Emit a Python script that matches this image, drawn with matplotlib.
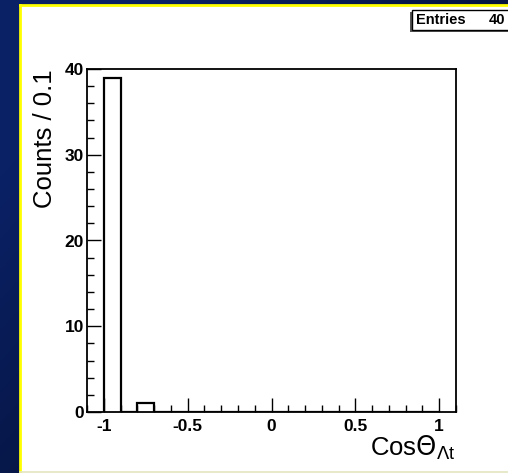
import numpy as np
import matplotlib.pyplot as plt
from matplotlib.patches import Rectangle
from matplotlib.ticker import MultipleLocator

# histogram content (bin width 0.1)
bin_edges = np.round(np.arange(-1.0, 1.0001, 0.1), 2)
counts = np.zeros(20)
counts[0] = 39
counts[2] = 1
bin_centers = (bin_edges[:-1] + bin_edges[1:]) / 2
n_entries = 40

plt.rcParams['font.family'] = ['Liberation Sans', 'DejaVu Sans']

fig = plt.figure(figsize=(5.08, 4.73), dpi=100)

# blue gradient backdrop
bg = fig.add_axes([0, 0, 1, 1], zorder=-10)
xx, yy = np.meshgrid(np.linspace(0, 1, 200), np.linspace(0, 1, 200))
t = np.clip(0.65 * (1 - xx) + 0.55 * yy, 0, 1)
c0 = np.array([0.0, 0.02, 0.08])
c1 = np.array([0.04, 0.13, 0.40])
img = c0 + (c1 - c0) * t[..., None]
bg.imshow(img, extent=[0, 1, 0, 1], origin='lower', aspect='auto')
bg.set_axis_off()

# white pad with yellow edge
fig.patches.append(Rectangle((20 / 508, 0), 1, (473 - 6) / 473, transform=fig.transFigure,
                             facecolor='white', edgecolor='none', zorder=-5))
fig.add_artist(plt.Line2D([19.5 / 508, 19.5 / 508], [0, (473 - 5.5) / 473], color='#ffff00', lw=2.0, transform=fig.transFigure))
fig.add_artist(plt.Line2D([19.5 / 508, 1], [(473 - 5.5) / 473] * 2, color='#ffff00', lw=2.0, transform=fig.transFigure))
fig.add_artist(plt.Line2D([20 / 508, 1], [1.5 / 473] * 2, color='#e4e4c0', lw=1.2, transform=fig.transFigure))

ax = fig.add_axes([87 / 508, (473 - 412) / 473, (456 - 87) / 508, (412 - 69) / 473])
ax.set_facecolor('none')
ax.hist(bin_centers, bins=bin_edges, weights=counts, histtype='step', color='black', lw=1.6)
ax.set_xlim(-1.1, 1.1)
ax.set_ylim(0, 40)
for s in ax.spines.values():
    s.set_linewidth(1.3)

ax.xaxis.set_major_locator(MultipleLocator(0.5))
ax.xaxis.set_minor_locator(MultipleLocator(0.1))
ax.yaxis.set_major_locator(MultipleLocator(10))
ax.yaxis.set_minor_locator(MultipleLocator(2))
ax.tick_params(which='both', direction='in', top=False, right=False, width=1.0)
ax.tick_params(which='major', length=10, labelsize=12.5, pad=5)
ax.tick_params(which='minor', length=5)
ax.set_xticks([-1, -0.5, 0, 0.5, 1])
ax.set_xticklabels(['-1', '-0.5', '0', '0.5', '1'], fontweight='bold')
ax.set_yticks([0, 10, 20, 30, 40])
ax.set_yticklabels(['0', '10', '20', '30', '40'], fontweight='bold')
ax.tick_params(axis='y', pad=2)

ax.set_xlabel(r'Cos$\Theta_{\Lambda\mathregular{t}}$', fontsize=18.5, loc='right', labelpad=0)
ax.set_ylabel('Counts / 0.1', fontsize=18.5, loc='top', labelpad=6)

# stats box
sx0, sy0 = 412 / 508, (473 - 30) / 473
fig.patches.append(Rectangle((sx0 - 2 / 508, sy0 - 2 / 473), 0.3, 20 / 473, transform=fig.transFigure,
                             facecolor='#555555', edgecolor='none', zorder=1))
fig.patches.append(Rectangle((sx0, sy0), 0.3, 20 / 473, transform=fig.transFigure,
                             facecolor='white', edgecolor='black', lw=1.0, zorder=2))
fig.text(416 / 508, (473 - 20) / 473, 'Entries', fontsize=10.5, fontweight='bold', va='center', ha='left')
fig.text(505 / 508, (473 - 20) / 473, str(n_entries), fontsize=10.5, fontweight='bold', va='center', ha='right')

plt.savefig('out.png', dpi=100)
